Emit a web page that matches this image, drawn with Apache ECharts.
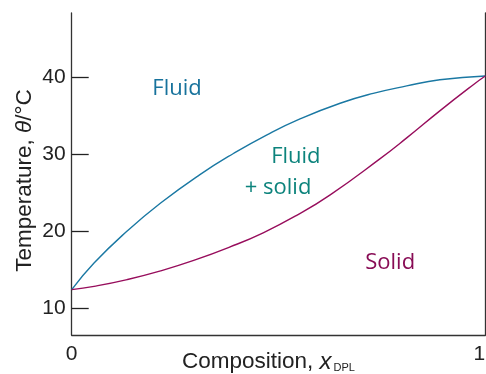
<!DOCTYPE html>
<html>
<head>
<meta charset="utf-8">
<script src="https://cdn.jsdelivr.net/npm/echarts@6/dist/echarts.min.js"></script>
<style>html,body{margin:0;padding:0;background:#fff}#c{width:486px;height:374px}</style>
</head>
<body>
<div id="c"></div>
<script>
// Liquidus (fluid boundary) curve: [composition x_DPL, temperature °C]
var fluidCurve = [[0,12.4],[0.054,15.86],[0.134,20.02],[0.215,23.67],[0.31,27.37],[0.391,30.12],[0.471,32.52],[0.552,34.62],[0.649,36.66],[0.729,37.94],[0.81,38.91],[0.89,39.71],[1,40.2]];
// Solidus curve
var solidCurve = [[0,12.4],[0.054,12.83],[0.134,13.71],[0.215,14.84],[0.295,16.2],[0.383,17.96],[0.463,19.8],[0.544,22.07],[0.625,24.74],[0.745,29.42],[0.81,32.15],[0.89,35.67],[0.971,39.07],[1,40.2]];
var yTicks = [10,20,30,40];
var xTicks = [0,1];
// Region annotations: [x, T, text, colour]
var regionLabels = [[0.2546,38.6,'Fluid','#17729c'],[0.542,29.65,'Fluid','#0c837c'],[0.499,25.6,'+ solid','#0c837c'],[0.770,15.9,'Solid','#880c55']];

var font = '"Liberation Sans", Arial, sans-serif';
var regionFont = '"Open Sans", "Noto Sans", sans-serif';
var chart = echarts.init(document.getElementById('c'));
chart.setOption({
  animation:false,
  grid:{left:71.7,right:0.7,top:13,bottom:39,containLabel:false,outerBoundsMode:'none'},
  xAxis:{type:'value',min:0,max:1,
    axisLine:{show:true,lineStyle:{color:'#333',width:1.3}},
    axisTick:{show:false},splitLine:{show:false},
    axisLabel:{customValues:xTicks,color:'#222',fontSize:21,fontFamily:font,margin:9,showMaxLabel:true,showMinLabel:true,alignMaxLabel:'right',formatter:function(v){return String(v);}},
    name:'{a|Composition, }{i|x}{s|DPL}',nameLocation:'middle',nameGap:15,nameMoveOverlap:false,
    nameTextStyle:{padding:[0,20,0,0],rich:{
      a:{fontSize:22.5,fontFamily:font,color:'#222'},
      i:{fontSize:24,fontFamily:font,fontStyle:'italic',color:'#222'},
      s:{fontSize:11,fontFamily:font,color:'#222',padding:[11,0,0,2]}
    }}
  },
  yAxis:[{type:'value',min:6.5,max:48.4,
    axisLine:{show:true,lineStyle:{color:'#333',width:1.3}},
    axisTick:{show:true,inside:true,length:17,customValues:yTicks,lineStyle:{color:'#222',width:1.3}},
    splitLine:{show:false},
    axisLabel:{customValues:yTicks,color:'#222',fontSize:21,fontFamily:font,margin:6},
    name:'{a|Temperature, }{i|θ}{a|/°C}',nameLocation:'middle',nameGap:35,nameMoveOverlap:false,
    nameTextStyle:{padding:[0,13,0,0],rich:{
      a:{fontSize:22.5,fontFamily:font,color:'#222'},
      i:{fontSize:22.5,fontFamily:font,fontStyle:'italic',color:'#222'}
    }}
  },{type:'value',min:6.5,max:48.4,position:'right',
    axisLine:{show:true,lineStyle:{color:'#333',width:1.3}},
    axisTick:{show:false},axisLabel:{show:false},splitLine:{show:false}
  }],
  series:[
    {type:'line',data:fluidCurve,smooth:true,symbol:'none',lineStyle:{color:'#1a78a3',width:1.4}},
    {type:'line',data:solidCurve,smooth:true,symbol:'none',lineStyle:{color:'#970d5c',width:1.4}},
    {type:'scatter',symbolSize:1,itemStyle:{color:'rgba(0,0,0,0)',opacity:1},silent:true,
      data:regionLabels.map(function(r){return {value:[r[0],r[1]],label:{show:true,position:'inside',formatter:r[2],color:r[3],opacity:1,textBorderWidth:0,fontSize:22,fontFamily:regionFont}};})}
  ]
});
</script>
</body>
</html>
